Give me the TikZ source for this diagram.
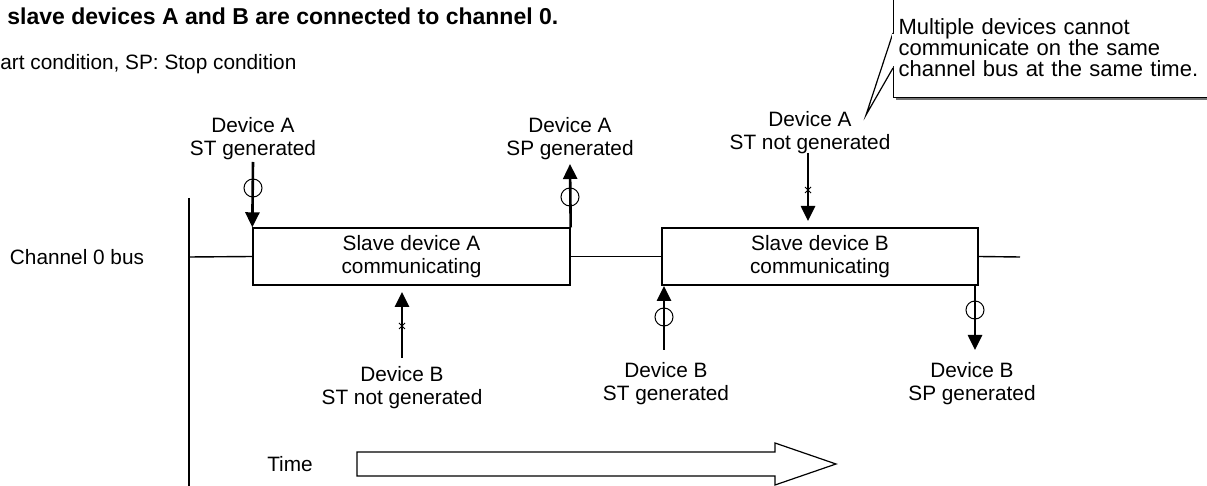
\documentclass[tikz,border=0pt]{standalone}
\usepackage{fontspec}
\setmainfont{Liberation Sans}
\usetikzlibrary{positioning}
\usetikzlibrary{arrows.meta}
\usetikzlibrary{shapes.misc}
\usetikzlibrary{shadows}

\tikzset{
    busline/.style={line width=0.7pt},
    slavebox/.style={draw, line width=0.7pt, minimum width=158.5pt, minimum height=28.5pt, align=center, inner sep=0pt},
    evlabel/.style={align=center, inner sep=0pt},
    sig/.style={line width=1.3pt, -{Triangle[length=7.5pt,width=7pt]}},
    okmark/.style={circle, draw, line width=0.5pt, minimum size=9pt, inner sep=0pt},
    ngmark/.style={cross out, draw, line width=0.5pt, minimum size=2.5pt, inner sep=0pt},
}

\begin{document}
\begin{tikzpicture}[x=0.5pt, y=-0.5pt, font=\fontsize{10.4pt}{11.5pt}\selectfont]
        \useasboundingbox (0,0) rectangle (1207,486);

        % heading
        \node[anchor=base west, inner sep=0pt, font=\bfseries\fontsize{11.5pt}{13pt}\selectfont] (title) at (7,25) {slave devices A and B are connected to channel 0.};
        \node[anchor=base west, inner sep=0pt] (legend) at (0,70) {art condition, SP: Stop condition};

        % bus
        \draw[busline] (189,198) -- (189,486);
        \node (chlabel) at (77,257) {Channel 0 bus};
        \node[slavebox] (slaveA) at (411.5,256.5) {Slave device A\\communicating};
        \node[slavebox, minimum width=158pt] (slaveB) at (820,256.5) {Slave device B\\communicating};
        \coordinate (busL) at (189,257);
        \coordinate (busR) at (1020,257);
        \draw[busline] (busL) -- (slaveA.west);
        \draw[busline] (slaveA.east) -- (slaveB.west);
        \draw[busline] (slaveB.east) -- (busR);

        % device A
        \node[evlabel] (lblAst) at (253,139) {Device A\\ST generated};
        \coordinate (aStTop) at (253,162);
        \draw[sig] (aStTop) -- (slaveA.north west);
        \node[okmark] (aStOk) at (253,188) {};

        \node[evlabel] (lblAsp) at (570,139) {Device A\\SP generated};
        \coordinate (aSpTop) at (570,164);
        \draw[sig] (slaveA.north east) -- (aSpTop);
        \node[okmark] (aSpOk) at (570,197) {};

        \node[evlabel] (lblAng) at (810,133) {Device A\\ST not generated};
        \coordinate (aNgTop) at (808,153);
        \coordinate (aNgEnd) at (808,221);
        \draw[sig] (aNgTop) -- (aNgEnd);
        \node[ngmark] (aNgX) at (808,190) {};

        % device B
        \node[evlabel] (lblBng) at (402,388) {Device B\\ST not generated};
        \coordinate (bNgBot) at (402,358);
        \coordinate (bNgEnd) at (402,292);
        \draw[sig] (bNgBot) -- (bNgEnd);
        \node[ngmark] (bNgX) at (402,326) {};

        \node[evlabel] (lblBst) at (666,383.5) {Device B\\ST generated};
        \coordinate (bStBot) at (664,350);
        \coordinate (bStEnd) at (664,286);
        \draw[sig] (bStBot) -- (bStEnd);
        \node[okmark] (bStOk) at (664,317) {};

        \node[evlabel] (lblBsp) at (972,383.5) {Device B\\SP generated};
        \coordinate (bSpTop) at (975,284);
        \coordinate (bSpEnd) at (975,350);
        \draw[sig] (bSpTop) -- (bSpEnd);
        \node[okmark] (bSpOk) at (975,310) {};

        % time
        \node (timelbl) at (290,464) {Time};
        \draw[line width=0.6pt] (357,452) -- (775,452) -- (775,443) -- (836,464) -- (775,485) -- (775,476) -- (357,476) -- cycle;

        % note
        \node[draw, fill=white, line width=0.6pt, drop shadow={shadow xshift=1pt, shadow yshift=-1pt, fill=black!55, opacity=1},
              anchor=north west, text width=160pt, minimum height=49.5pt, inner xsep=2.5pt, align=left,
              font=\fontsize{11pt}{10.5pt}\selectfont] (note) at (893,-2)
              {Multiple devices cannot\\communicate on the same\\channel bus at the same time.};
        \coordinate (pa) at (893,33);
        \coordinate (pb) at (893,68);
        \coordinate (tip) at (866,115);
        \draw[line width=0.6pt, fill=white] (pa) -- (tip) -- (pb);
        \draw[white, line width=1.2pt] (893,34.5) -- (893,66.5);

\end{tikzpicture}
\end{document}
